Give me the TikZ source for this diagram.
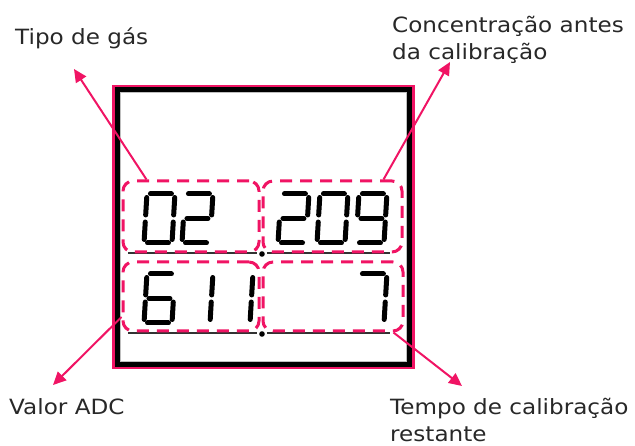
\documentclass[tikz,border=0pt]{standalone}
\usepackage{fontspec}
\setmainfont{DejaVu Sans}[FakeStretch=1.1]
\usetikzlibrary{arrows.meta}
\definecolor{pinkc}{RGB}{240,20,100}
\definecolor{txtc}{RGB}{40,40,40}
\definecolor{ulc}{RGB}{50,50,50}
\tikzset{
  lcd/.style={line width=5pt,line cap=round,black},
  dbox/.style={draw=pinkc,line width=3pt,dash pattern=on 12pt off 8pt,rounded corners=10pt,inner sep=0pt},
  arr/.style={draw=pinkc,line width=2pt,-{Triangle[length=13pt,width=12pt]}},
  lbl/.style={text=txtc,font=\fontsize{21}{27}\selectfont,inner sep=0pt,align=left},
  uline/.style={draw=ulc,line width=2.8pt}
}
\newcommand\lcddigit[3]{%
  \begin{scope}[shift={(#1,#2)},xslant=0.06]
    \foreach \s in {#3}{%
      \ifcase\s\relax
        \draw[lcd] (3.5,-49) -- (24.5,-49);
      \or
        \draw[lcd] (28,-45.5) -- (28,-28);
      \or
        \draw[lcd] (28,-21) -- (28,-3.5);
      \or
        \draw[lcd] (3.5,0) -- (24.5,0);
      \or
        \draw[lcd] (0,-21) -- (0,-3.5);
      \or
        \draw[lcd] (0,-45.5) -- (0,-28);
      \or
        \draw[lcd] (3.5,-24.5) -- (24.5,-24.5);
      \fi}
  \end{scope}}
\begin{document}
\begin{tikzpicture}[x=1pt,y=-1pt]
\useasboundingbox (0,0) rectangle (635,446);
% frame
\draw[pinkc,line width=2.5pt] (113.5,86) rectangle (413.5,367.5);
\draw[black,line width=5pt] (117.5,90) rectangle (409.5,364.5);
\draw[black!25,line width=1pt] (120.5,93) rectangle (406.5,361.5);
% underlines
\draw[uline] (128,253) -- (257,253);
\draw[uline] (267,253) -- (390,253);
\fill[black] (262,254) circle (2.8);
\draw[uline] (128,333) -- (257,333);
\draw[uline] (267,333) -- (390,333);
\fill[black] (262,334) circle (2.8);
% digits top row: 02 209
\lcddigit{144}{243}{0,1,2,3,4,5}
\lcddigit{182}{243}{0,1,6,4,3}
\lcddigit{278}{243}{0,1,6,4,3}
\lcddigit{317}{243}{0,1,2,3,4,5}
\lcddigit{356}{243}{0,1,2,3,5,6}
% digits bottom row: 611 7
\lcddigit{144}{323}{0,5,6,4,3,2}
\lcddigit{182}{323}{1,2}
\lcddigit{222}{323}{1,2}
\lcddigit{356}{323}{0,1,2}
% dashed boxes
\node[dbox,minimum width=136pt,minimum height=71pt] (tl) at (191,216.5) {};
\node[dbox,minimum width=139pt,minimum height=71pt] (tr) at (332.5,216.5) {};
\node[dbox,minimum width=136pt,minimum height=69pt] (bl) at (191,296.5) {};
\node[dbox,minimum width=140pt,minimum height=69pt] (br) at (333,296.5) {};
% labels
\node[lbl,anchor=base west] (ltipo) at (15,45) {Tipo de gás};
\node[lbl,anchor=base west] (lconc) at (392,59.5) {Concentração antes\\da calibração};
\node[lbl,anchor=base west] (ladc) at (9,415) {Valor ADC};
\node[lbl,anchor=base west] (ltempo) at (390,441.5) {Tempo de calibração\\restante};
% arrow ends
\coordinate (ta) at (74,69);
\coordinate (tb) at (450,62);
\coordinate (tc) at (53,385);
\coordinate (td) at (462,386);
\coordinate (sa) at ([xshift=25pt]tl.north west);
\coordinate (sb) at ([xshift=-20pt]tr.north east);
\coordinate (sc) at ([yshift=-20.5pt]bl.west);
\coordinate (sd) at ([xshift=-11pt]br.south east);
\draw[arr] (sa) -- (ta);
\draw[arr] (sb) -- (tb);
\draw[arr] (sc) -- (tc);
\draw[arr] (sd) -- (td);
\end{tikzpicture}
\end{document}
